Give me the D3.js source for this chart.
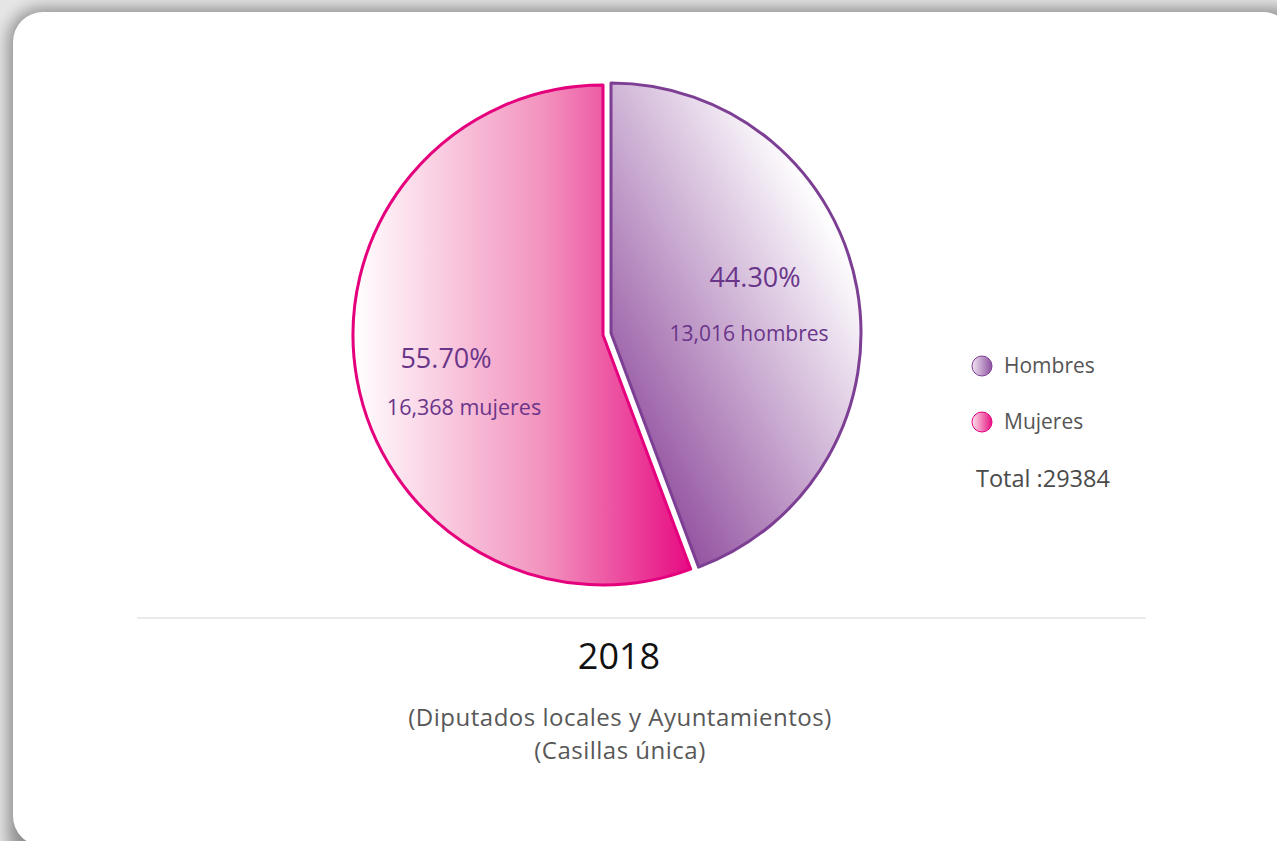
<!DOCTYPE html>
<html>
<head>
<meta charset="utf-8">
<script src="https://cdn.jsdelivr.net/npm/d3@7"></script>
<style>
  html, body { margin: 0; padding: 0; background: #fff; }
  svg { display: block; font-family: "Open Sans", "Noto Sans", sans-serif; }
</style>
</head>
<body>
<script>
// data
const categories = ["Hombres", "Mujeres"];
const percents = [44.30, 55.70];
const counts = ["13,016 hombres", "16,368 mujeres"];
const total = 29384;
const year = "2018";
const subtitle = ["(Diputados locales y Ayuntamientos)", "(Casillas única)"];

const width = 1277, height = 841;
const cx = 603, cy = 335, radius = 250;

const svg = d3.select("body").append("svg")
  .attr("width", width)
  .attr("height", height);

const defs = svg.append("defs");

// shadow for the card
const blur = defs.append("filter").attr("id", "shadow")
  .attr("x", "-5%").attr("y", "-5%").attr("width", "110%").attr("height", "110%");
blur.append("feGaussianBlur").attr("stdDeviation", 8);

// gradients for the slices and legend dots (slice gradients in the pie group's space)
const strokeColor = { Hombres: "#7d3f94", Mujeres: "#e5007d" };

function addGrad(id, stops, x1, x2, y1, y2, units) {
  const g = defs.append("linearGradient").attr("id", id)
    .attr("x1", x1).attr("x2", x2).attr("y1", y1).attr("y2", y2);
  if (units) g.attr("gradientUnits", units);
  stops.forEach(s => g.append("stop").attr("offset", s[0]).attr("stop-color", s[1]));
}
addGrad("g-Hombres", [["0%", "#9454a1"], ["45%", "#c4a2cc"], ["100%", "#ffffff"]], 0, radius, 80, -60, "userSpaceOnUse");
addGrad("g-Mujeres", [["0%", "#ffffff"], ["55%", "#f291bd"], ["100%", "#e6007e"]], -radius, 100, 0, 0, "userSpaceOnUse");
addGrad("l-Hombres", [["0%", "#f3e6f4"], ["100%", "#8c4f9f"]], "0%", "100%", 0, 0);
addGrad("l-Mujeres", [["0%", "#fce4ee"], ["100%", "#e6117f"]], "0%", "100%", 0, 0);

// card background
svg.append("rect").attr("width", width).attr("height", height).attr("fill", "#e6e6e6");
svg.append("rect")
  .attr("x", 8).attr("y", 8).attr("width", 1300).attr("height", 860)
  .attr("rx", 34).attr("fill", "#8e8e8e").attr("filter", "url(#shadow)");
svg.append("rect")
  .attr("x", 13).attr("y", 12).attr("width", 1280).attr("height", 834)
  .attr("rx", 30).attr("fill", "#ffffff");

// pie
const data = categories.map((c, i) => ({ name: c, value: percents[i], label: counts[i] }));
const pie = d3.pie().sort(null).value(d => d.value);
const arcs = pie(data);
const arc = d3.arc().innerRadius(0).outerRadius(radius);
const offset = { Hombres: [8, -2], Mujeres: [0, 0] };

const slices = svg.append("g").attr("transform", `translate(${cx},${cy})`);

// Mujeres first, then Hombres on top with a white gap line
[arcs[1], arcs[0]].forEach(a => {
  const o = offset[a.data.name];
  const g = slices.append("g").attr("transform", `translate(${o[0]},${o[1]})`);
  if (a.data.name === "Hombres") {
    g.append("path").attr("d", arc(a))
      .attr("fill", "none").attr("stroke", "#fff").attr("stroke-width", 8);
  }
  g.append("path")
    .attr("d", arc(a))
    .attr("fill", `url(#g-${a.data.name})`)
    .attr("stroke", strokeColor[a.data.name])
    .attr("stroke-width", 3)
    .attr("stroke-linejoin", "round");
});

// slice labels: [x, y, size] of percent and count, relative to pie centre
const labelPos = {
  Hombres: { pct: [152, -48, 27], cnt: [146, 6, 21] },
  Mujeres: { pct: [-157, 33, 27], cnt: [-139, 80, 21.5] }
};
arcs.forEach(a => {
  const p = labelPos[a.data.name];
  slices.append("text")
    .attr("x", p.pct[0]).attr("y", p.pct[1])
    .attr("text-anchor", "middle")
    .attr("fill", "#6a3589")
    .style("font-size", p.pct[2] + "px")
    .text(a.data.value.toFixed(2) + "%");
  slices.append("text")
    .attr("x", p.cnt[0]).attr("y", p.cnt[1])
    .attr("text-anchor", "middle")
    .attr("fill", "#6a3589")
    .style("font-size", p.cnt[2] + "px")
    .text(a.data.label);
});

// legend
const legend = svg.append("g").attr("transform", "translate(982,366)");
categories.forEach((c, i) => {
  const row = legend.append("g").attr("transform", `translate(0,${i * 56})`);
  row.append("circle").attr("r", 10)
    .attr("fill", `url(#l-${c})`)
    .attr("stroke", strokeColor[c]).attr("stroke-width", 1);
  row.append("text").attr("x", 22).attr("y", 7)
    .attr("fill", "#555").style("font-size", "21px").text(c);
});
legend.append("text").attr("x", -6).attr("y", 121)
  .attr("fill", "#4a4a4a").style("font-size", "23.5px")
  .text("Total :" + total);

// separator and captions
svg.append("line")
  .attr("x1", 137).attr("x2", 1146).attr("y1", 618).attr("y2", 618)
  .attr("stroke", "#d6d6d6").attr("stroke-width", 1);

svg.append("text").attr("x", 619).attr("y", 669)
  .attr("text-anchor", "middle").attr("fill", "#111")
  .style("font-size", "36px").text(year);

subtitle.forEach((s, i) => {
  svg.append("text").attr("x", 620).attr("y", 726 + i * 33)
    .attr("text-anchor", "middle").attr("fill", "#585858")
    .style("font-size", "24px")
    .style("letter-spacing", "0.5px")
    .text(s);
});
</script>
</body>
</html>
